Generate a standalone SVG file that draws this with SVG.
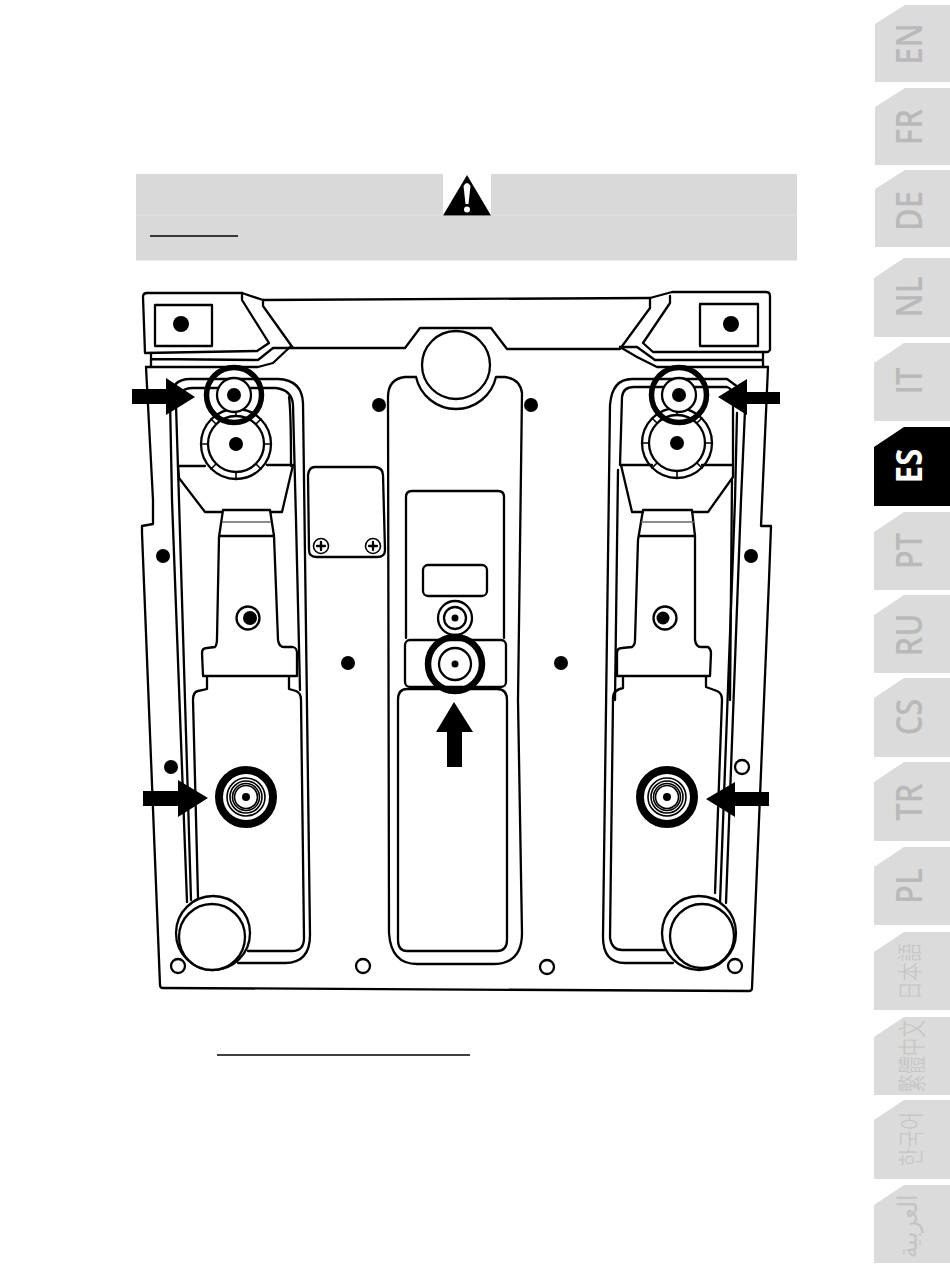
<svg xmlns="http://www.w3.org/2000/svg" width="950" height="1267" viewBox="0 0 950 1267">
<style>
.l{fill:none;stroke:#000;stroke-width:2.300;stroke-linejoin:round;stroke-linecap:round}
.t{stroke-width:1.600}
.g{fill:none;stroke:#666;stroke-width:1.300}
.w{fill:#fff;stroke:#000;stroke-width:2.300}
.k{fill:#000;stroke:none}
.r{fill:none;stroke:#000}
.tab{fill:#dbdbdb}
.lab{fill:#b9b9b9;font-family:"Open Sans","Noto Sans",sans-serif;font-weight:600;font-size:36px;text-anchor:middle}
.cjk{fill:#c4c4c4;font-family:"Noto Sans CJK SC","Noto Sans CJK JP",sans-serif;font-weight:300;text-anchor:middle}
</style>
<defs>
<g id="wheel">
<circle class="l" r="35"/><circle class="l" r="28"/>
<path class="l t" d="M28 0H35M-28 0H-35M0 28V35M0 -28V-35M20 20L25 25M-20 20L-25 25M20 -20L25 -25M-20 -20L-25 -25"/>
<circle class="k" r="7"/>
</g>
<g id="screw"><circle class="l t" r="7.500"/><path class="l" d="M-4 0H4M0 -4V4"/></g>
<g id="target">
<circle class="r" r="27" stroke-width="8"/>
<circle class="l t" r="19"/><circle class="l t" r="16"/><circle class="l t" r="13.500"/><circle class="l t" r="11.500"/>
<circle class="k" r="4"/>
</g>
<g id="ringTop">
<circle class="w" r="17"/><circle class="k" r="7"/>
<circle class="r" r="27.500" stroke-width="5.500"/>
</g>
</defs>

<g id="warning-band">
<rect x="136" y="174" width="661" height="86.500" fill="#d9d9d9"/>
<path d="M136 215H797" stroke="#e3e3e3" stroke-width="1"/>
<rect x="443" y="174" width="48" height="42" fill="#fff"/>
<path class="k" d="M467 175L491 215.500H443Z"/>
<path d="M463.500 186Q467 180 470.500 186L468.500 204H465.500Z" fill="#fff"/>
<circle cx="467" cy="209.500" r="3" fill="#fff"/>
<path d="M150 236H238" stroke="#000" stroke-width="1.500"/>
</g>
<path id="underline" d="M217 1055H470" stroke="#000" stroke-width="1.500"/>

<g id="device">
<!-- outer body -->
<path class="l" d="M146 367L153 500V524L142 526V533L160 985Q160 988 163 988L749 991Q752 991 752 988L769 580L771 526H761L768 367"/>
<path class="l" d="M146 367H258L273 363L290 347"/>
<path class="l" d="M768 367H657L637 357L620 347"/>
<!-- top bar and brackets -->
<path class="l" d="M147 293H242L263 300L650 298L672 292H766Q770 292 770 296V350L768 352H653L643 343L670 303V296"/>
<path class="l" d="M147 293Q143 293 143 297L145 353L257 351L269 343L242 300V293"/>
<path class="l" d="M151 353V367M151 359L258 360L273 348H293L263 306V300"/>
<path class="l" d="M293 348H405L420 328H491L507 349H620L650 308V298"/>
<path class="l" d="M620 347H637L655 360H762"/>
<path class="l" d="M763 352V367"/>
<rect class="l" x="155" y="305" width="57" height="41"/>
<rect class="l" x="700" y="304" width="58" height="42"/>
<circle class="k" cx="181" cy="324" r="8"/><circle class="k" cx="731" cy="324" r="8"/>

<!-- left track -->
<path class="l" d="M187 902L172 500L170 400Q171 379 190 379H278Q302 380 303 403L310 935Q310 963 285 963H238"/>
<path class="l" d="M191 900L179 500L176 405Q177 388 193 388H276Q292 390 293 405L296 520L300 690"/>
<path class="l" d="M289 397Q291 410 291 466"/>
<path class="l" d="M198 897L193 700Q193 692 198 691L207 689V677M289 677V689L296 691Q301 693 301 700L304 938Q304 951 292 951H248"/>
<path class="l" d="M178 466H205M267 465H293L282 512H271M178 466L179 478L205 512H222"/>
<path class="l" d="M203 675L202 653Q202 648 207 648L215 647Q217 645 217 638L219 537L223 510H270L274 536L278 640Q279 647 284 647H293Q297 648 297 653V676H203"/>
<path class="g" d="M222 522H271"/>
<path class="l" d="M219 536H274"/>
<circle class="l" cx="248" cy="618" r="11.500"/><circle class="k" cx="250" cy="618" r="7"/>

<!-- right track -->
<path class="l" d="M726 903L741 500L745 410M720 903L735 500L737 413M715 893L722 700Q722 693 717 691L706 687V677M623 677V688Q612 690 613 700L610 938Q612 950 622 950H665"/>
<path class="l" d="M673 963H625Q603 963 603 937L610 405Q612 379 632 379H727L742 390"/>
<path class="l" d="M622 397Q623 387 634 387H727Q733 389 733 397V477L708 512H692M643 512H632L621 465H652M702 465H733M622 397L620 465"/>
<path class="l" d="M615 700L618 470"/>
<path class="l" d="M730 700L732 480"/>
<path class="l" d="M617 676L617 653Q617 648 622 648L632 647Q635 645 635 640L638 540L643 510H692L695 536L695 640Q696 647 701 647H708Q711 649 711 653L710 676H617"/>
<path class="g" d="M641 522H694"/>
<path class="l" d="M640 536H695"/>
<circle class="l" cx="665" cy="618" r="11.500"/><circle class="k" cx="663" cy="618" r="6.500"/>

<!-- centre panel -->
<path class="l" d="M416 377H405Q388 379 388 397L389 933Q391 964 417 964H493Q522 964 522 933L518 700L522 393Q520 379 505 377H496A41 41 0 0 1 416 377"/>
<path class="l" d="M407 689H497Q507 689 507 700V940Q507 951 497 951H407Q398 951 398 940V700Q398 689 407 689Z"/>
<path class="l" d="M406 638V497Q406 491 412 491H498Q504 491 504 497V638"/>
<rect class="l" x="405" y="640" width="101" height="47" rx="5"/>
<rect class="l" x="423" y="565" width="64" height="31" rx="5"/>
<circle class="l" cx="456" cy="365" r="34"/>
<circle class="l" cx="455" cy="618" r="17"/><circle class="l" cx="455" cy="618" r="11"/><circle class="k" cx="455" cy="618" r="3.500"/>
<circle class="r" cx="455" cy="664" r="27" stroke-width="6.500"/><circle class="l" cx="455" cy="664" r="16"/><circle class="k" cx="455" cy="664" r="3.500"/>

<!-- plate -->
<path class="l" d="M315 467H375Q383 468 383 475L385 550Q385 557 377 557H317Q309 557 309 550L308 475Q309 467 315 467Z"/>
<use href="#screw" x="321" y="546"/><use href="#screw" x="373" y="546"/>

<!-- wheels and rings -->
<use href="#wheel" x="236" y="444"/><use href="#wheel" x="677" y="443"/>
<use href="#ringTop" x="234" y="395"/><use href="#ringTop" x="679" y="395"/>
<use href="#target" x="246" y="797"/><use href="#target" x="667" y="797"/>
<circle class="w" cx="213" cy="933" r="37"/><circle class="w" cx="212" cy="937" r="33"/>
<circle class="w" cx="699" cy="933" r="37"/><circle class="w" cx="702" cy="936" r="32"/>

<!-- holes -->
<g class="k">
<circle cx="379" cy="405" r="7"/><circle cx="531" cy="405" r="7"/>
<circle cx="163" cy="556" r="7"/><circle cx="751" cy="556" r="7"/>
<circle cx="348" cy="663" r="7"/><circle cx="561" cy="663" r="7"/>
<circle cx="171" cy="767" r="7"/>
</g>
<circle class="l" cx="178" cy="966" r="7"/><circle class="l" cx="363" cy="966" r="7"/>
<circle class="l" cx="547" cy="967" r="7"/><circle class="l" cx="735" cy="966" r="7"/>
<circle class="l" cx="742" cy="767" r="7"/>
</g>

<g id="connectors" class="k">
<path d="M132 389H166V378L195 397L166 415V404H132Z"/>
<path d="M780 392H747V379L718 397L747 415V404H780Z"/>
<path d="M143 791H178V780L208 798L178 817V806H143Z"/>
<path d="M769 792H735V782L706 799L735 817V806H769Z"/>
<path d="M447 767V732H436L454 702L473 732H462V767Z"/>
</g>

<g id="tab-en"><path class="tab" d="M875 24L905 5H950V82H875Z"/><text class="lab" transform="translate(922 44) rotate(-90) scale(.86 1)">EN</text></g>
<g id="tab-fr"><path class="tab" d="M875 107L905 88H950V165H875Z"/><text class="lab" transform="translate(922 127) rotate(-90) scale(.86 1)">FR</text></g>
<g id="tab-de"><path class="tab" d="M875 189L905 170H950V247H875Z"/><text class="lab" transform="translate(922 211) rotate(-90) scale(.86 1)">DE</text></g>
<g id="tab-nl"><path class="tab" d="M874 278L904 258H950V337H874Z"/><text class="lab" transform="translate(922 297) rotate(-90) scale(.86 1)">NL</text></g>
<g id="tab-it"><path class="tab" d="M874 363L904 343H950V421H874Z"/><text class="lab" transform="translate(922 381) rotate(-90) scale(.86 1)">IT</text></g>
<g id="tab-es"><path d="M874 447L904 427H950V506H874Z"/><text class="lab" style="fill:#fff;font-weight:700" transform="translate(922 466) rotate(-90) scale(.86 1)">ES</text></g>
<g id="tab-pt"><path class="tab" d="M874 532L904 512H950V590H874Z"/><text class="lab" transform="translate(922 551) rotate(-90) scale(.86 1)">PT</text></g>
<g id="tab-ru"><path class="tab" d="M874 615L904 595H950V673H874Z"/><text class="lab" transform="translate(922 635) rotate(-90) scale(.86 1)">RU</text></g>
<g id="tab-cs"><path class="tab" d="M874 698L904 678H950V757H874Z"/><text class="lab" transform="translate(922 717) rotate(-90) scale(.86 1)">CS</text></g>
<g id="tab-tr"><path class="tab" d="M874 782L904 762H950V841H874Z"/><text class="lab" transform="translate(922 802) rotate(-90) scale(.86 1)">TR</text></g>
<g id="tab-pl"><path class="tab" d="M874 867L904 847H950V925H874Z"/><text class="lab" transform="translate(922 886) rotate(-90) scale(.86 1)">PL</text></g>
<g id="tab-ja"><path class="tab" d="M874 952L904 932H950V1010H874Z"/><text class="cjk" font-size="25" transform="translate(919 971.500) rotate(-90) scale(.77 1)">日本語</text></g>
<g id="tab-zh"><path class="tab" d="M874 1037L904 1017H950V1095H874Z"/><text class="cjk" font-size="29" transform="translate(923 1056) rotate(-90) scale(.63 1)">繁體中文</text></g>
<g id="tab-ko"><path class="tab" d="M874 1120L904 1100H950V1179H874Z"/><text class="cjk" font-size="26" transform="translate(921 1139) rotate(-90) scale(.76 1)">한국어</text></g>
<g id="tab-ar"><path class="tab" d="M874 1205L904 1185H950V1263H874Z"/><text class="cjk" font-size="27" style="font-family:'Noto Sans','DejaVu Sans',sans-serif" transform="translate(917 1226) rotate(-90) scale(.85 1)">العربية</text></g>
</svg>
